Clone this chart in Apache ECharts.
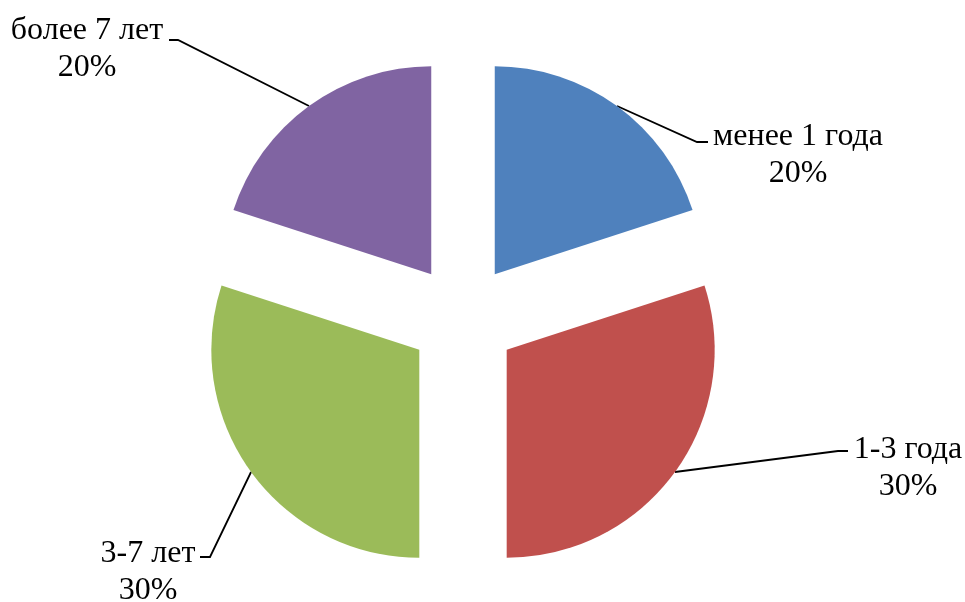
<!DOCTYPE html>
<html>
<head>
<meta charset="utf-8">
<script src="https://cdn.jsdelivr.net/npm/echarts@6/dist/echarts.min.js"></script>
<style>
html,body{margin:0;padding:0;background:#fff;}
#chart{width:965px;height:602px;}
</style>
</head>
<body>
<div id="chart"></div>
<script>
// Data
var categories = ['менее 1 года', '1-3 года', '3-7 лет', 'более 7 лет'];
var values = [20, 30, 30, 20];
var colors = ['#4F81BD', '#C0504D', '#9BBB59', '#8064A2'];

// Label layout (centre of text block, elbow point, end point of leader line)
var labelCenters = [[798, 155], [908, 468], [148, 572], [87, 49]];
var elbows = [[697, 142], [838, 451], [210, 557], [178, 40]];
var lineEnds = [[708, 142], [848, 451], [200, 557], [169, 40]];

var baseCenter = [463, 318];
var pieRadius = 208;
var explode = 54;

var chart = echarts.init(document.getElementById('chart'), null, {renderer: 'canvas'});

var total = values.reduce(function (a, b) { return a + b; }, 0);
var series = [];
var cum = 0;
values.forEach(function (v, i) {
  var mid = (cum + v / 2) / total * 2 * Math.PI;
  cum += v;
  var cx = baseCenter[0] + explode * Math.sin(mid);
  var cy = baseCenter[1] - explode * Math.cos(mid);
  var data = categories.map(function (c, j) {
    if (j === i) {
      return { name: c, value: values[j], itemStyle: { color: colors[j] } };
    }
    return {
      name: c, value: values[j],
      itemStyle: { color: 'rgba(0,0,0,0)' },
      label: { show: false }, labelLine: { show: false }
    };
  });
  series.push({
    type: 'pie',
    center: [cx, cy],
    radius: pieRadius,
    startAngle: 90,
    clockwise: true,
    silent: true,
    avoidLabelOverlap: false,
    data: data,
    itemStyle: { borderWidth: 0 },
    emphasis: { disabled: true, scale: false },
    label: {
      show: true,
      position: 'outside',
      formatter: '{b}\n{d}%',
      fontFamily: '"Liberation Serif", "Times New Roman", serif',
      fontSize: 32,
      lineHeight: 37,
      color: '#000'
    },
    labelLine: {
      show: true,
      lineStyle: { color: '#000', width: 1.8 }
    },
    labelLayout: function (params) {
      var k = params.dataIndex;
      var p0 = params.labelLinePoints ? params.labelLinePoints[0] : elbows[k];
      return {
        x: labelCenters[k][0],
        y: labelCenters[k][1],
        align: 'center',
        verticalAlign: 'middle',
        labelLinePoints: [p0, elbows[k], lineEnds[k]]
      };
    }
  });
});

chart.setOption({
  animation: false,
  backgroundColor: '#ffffff',
  series: series
});
</script>
</body>
</html>
